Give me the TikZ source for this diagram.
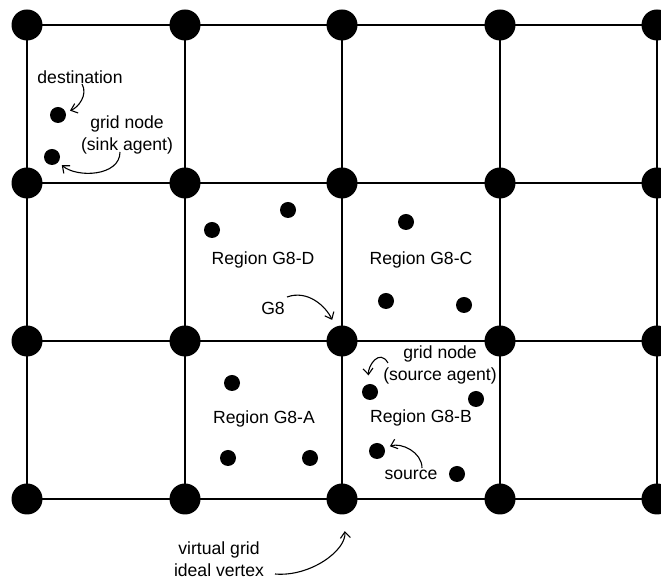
\documentclass[tikz,border=0pt]{standalone}
\usepackage{fontspec}
\setmainfont{Liberation Sans}
\usetikzlibrary{arrows.meta, positioning}

\tikzset{
  vtx/.style={circle, fill=black, minimum size=31pt, inner sep=0pt},
  agent/.style={circle, fill=black, minimum size=16pt, inner sep=0pt},
  lbl/.style={font=\fontsize{17.6}{21.5}\selectfont, align=center, inner sep=0pt},
  callout/.style={-{Straight Barb[length=6pt,width=10pt]}, line width=1.1pt},
}

\begin{document}
\begin{tikzpicture}[x=1pt, y=1pt, line width=1.5pt]
\useasboundingbox (0,0) rectangle (661,580);
% virtual grid vertices
\foreach \x [count=\i from 0] in {27,185,342,500,657}
  \foreach \y [count=\j from 0] in {555,397,239,81}
    \node[vtx] (v\i\j) at (\x,\y) {};
% grid lines
\foreach \j in {0,...,3}
  \draw (v0\j.center) -- (v4\j.center);
\foreach \i in {0,...,4}
  \draw (v\i0.center) -- (v\i3.center);
%
% agents
\node[agent] (dest) at (58,465) {};
\node[agent] (sink) at (52,423) {};
\node[agent] (d1) at (212,350) {};
\node[agent] (d2) at (288,370) {};
\node[agent] (c1) at (406,358) {};
\node[agent] (c2) at (386,279) {};
\node[agent] (c3) at (464,275) {};
\node[agent] (b1) at (370,188) {};
\node[agent] (b2) at (476,181) {};
\node[agent] (b3) at (377,129) {};
\node[agent] (b4) at (457,106) {};
\node[agent] (a1) at (232,197) {};
\node[agent] (a2) at (228,122) {};
\node[agent] (a3) at (310,122) {};
%
% labels
\node[lbl] (dest-lbl) at (80,503) {destination};
\node[lbl] (sink-lbl) at (127,445) {grid node\\(sink agent)};
\node[lbl] (reg-d) at (263,320) {Region G8-D};
\node[lbl] (reg-c) at (421,320) {Region G8-C};
\node[lbl] (g8-lbl) at (273,272) {G8};
\node[lbl] (src-agent-lbl) at (440,215) {grid node\\(source agent)};
\node[lbl] (reg-b) at (421,162) {Region G8-B};
\node[lbl] (src-lbl) at (411,105) {source};
\node[lbl] (reg-a) at (264,161) {Region G8-A};
\node[lbl] (vtx-lbl) at (219,21) {virtual grid\\ideal vertex};
%
% callout arrows
\coordinate (dest-c) at (82,496);
\coordinate (sink-c) at (120,428);
\coordinate (g8-c) at (287,283);
\coordinate (src-agent-c) at (388,217);
\coordinate (src-c) at (422,112);
\coordinate (vtx-c) at (275,6);
\draw[callout, shorten >=4pt] (dest-c) to[out=-60, in=20] (dest);
\draw[callout, shorten >=4pt] (sink-c) to[out=-90, in=-40] (sink);
\draw[callout, shorten >=7pt] (g8-c) to[out=20, in=115] (v22);
\draw[callout, shorten >=8pt] (src-agent-c) to[out=120, in=95, looseness=1.6] (b1);
\draw[callout, shorten >=5pt] (src-c) to[out=90, in=20] (b3);
\draw[callout, shorten >=16pt] (vtx-c) to[out=-5, in=-85] (v23);
\end{tikzpicture}
\end{document}
